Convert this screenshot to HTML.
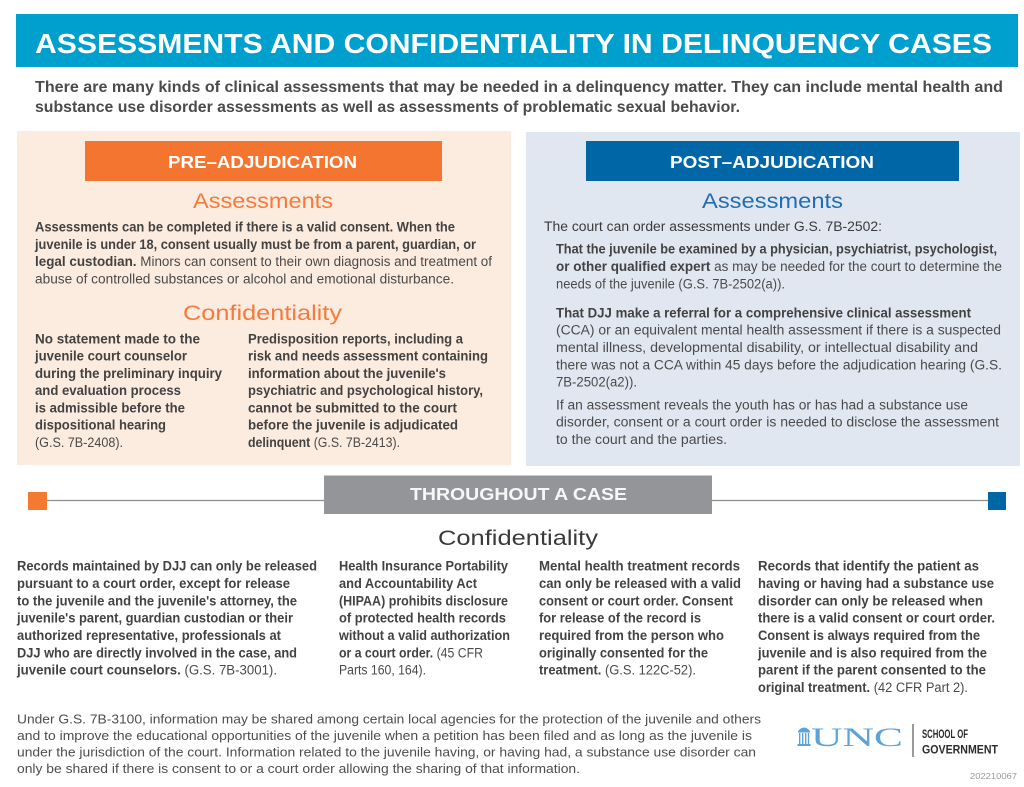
<!DOCTYPE html>
<html>
<head>
<meta charset="utf-8">
<style>
html,body{margin:0;padding:0;background:#fff;}
svg{display:block;}
text{font-family:"Liberation Sans",sans-serif;}
.t{fill:#3a3a3a;font-size:13.5px;}
.bd{font-weight:bold;fill:#424242;}
.rg{font-weight:normal;fill:#4a4a4a;}
</style>
</head>
<body>
<svg width="1024" height="787" viewBox="0 0 1024 787" xmlns="http://www.w3.org/2000/svg">
<rect x="0" y="0" width="1024" height="787" fill="#ffffff"/>

<!-- Title bar -->
<rect x="16" y="14" width="1002" height="53" fill="#00a0ce"/>
<text x="35" y="53" textLength="957" lengthAdjust="spacingAndGlyphs" font-size="27.5" font-weight="bold" fill="#ffffff">ASSESSMENTS AND CONFIDENTIALITY IN DELINQUENCY CASES</text>

<!-- Subtitle -->
<text x="35" y="92" textLength="968" lengthAdjust="spacingAndGlyphs" font-size="15.5" font-weight="bold" fill="#4b4b4d">There are many kinds of clinical assessments that may be needed in a delinquency matter. They can include mental health and</text>
<text x="35" y="112" textLength="705" lengthAdjust="spacingAndGlyphs" font-size="15.5" font-weight="bold" fill="#4b4b4d">substance use disorder assessments as well as assessments of problematic sexual behavior.</text>

<!-- Left panel -->
<rect x="17" y="131" width="494" height="334" fill="#fcebdf"/>
<rect x="85" y="141" width="357" height="40" fill="#f37530"/>
<text x="168" y="168" textLength="189" lengthAdjust="spacingAndGlyphs" font-size="17.5" font-weight="bold" fill="#ffffff">PRE–ADJUDICATION</text>
<text x="193" y="208" textLength="140" lengthAdjust="spacingAndGlyphs" font-size="21" fill="#f47b3b">Assessments</text>

<text class="t bd" x="35" y="231.5" textLength="420" lengthAdjust="spacingAndGlyphs">Assessments can be completed if there is a valid consent. When the</text>
<text class="t bd" x="35" y="248.8" textLength="441" lengthAdjust="spacingAndGlyphs">juvenile is under 18, consent usually must be from a parent, guardian, or</text>
<text class="t" x="35" y="266" textLength="457" lengthAdjust="spacingAndGlyphs"><tspan class="bd">legal custodian.</tspan><tspan class="rg"> Minors can consent to their own diagnosis and treatment of</tspan></text>
<text class="t rg" x="35" y="283.3" textLength="419" lengthAdjust="spacingAndGlyphs">abuse of controlled substances or alcohol and emotional disturbance.</text>

<text x="183" y="320" textLength="159" lengthAdjust="spacingAndGlyphs" font-size="21" fill="#f47b3b">Confidentiality</text>

<text class="t bd" x="35" y="343.3" textLength="165" lengthAdjust="spacingAndGlyphs">No statement made to the</text>
<text class="t bd" x="35" y="360.6" textLength="152" lengthAdjust="spacingAndGlyphs">juvenile court counselor</text>
<text class="t bd" x="35" y="377.8" textLength="187" lengthAdjust="spacingAndGlyphs">during the preliminary inquiry</text>
<text class="t bd" x="35" y="395.1" textLength="146" lengthAdjust="spacingAndGlyphs">and evaluation process</text>
<text class="t bd" x="35" y="412.3" textLength="150" lengthAdjust="spacingAndGlyphs">is admissible before the</text>
<text class="t bd" x="35" y="429.6" textLength="131" lengthAdjust="spacingAndGlyphs">dispositional hearing</text>
<text class="t rg" x="35" y="446.8" textLength="88" lengthAdjust="spacingAndGlyphs">(G.S. 7B-2408).</text>

<text class="t bd" x="248" y="343.3" textLength="215" lengthAdjust="spacingAndGlyphs">Predisposition reports, including a</text>
<text class="t bd" x="248" y="360.6" textLength="240" lengthAdjust="spacingAndGlyphs">risk and needs assessment containing</text>
<text class="t bd" x="248" y="377.8" textLength="198" lengthAdjust="spacingAndGlyphs">information about the juvenile's</text>
<text class="t bd" x="248" y="395.1" textLength="235" lengthAdjust="spacingAndGlyphs">psychiatric and psychological history,</text>
<text class="t bd" x="248" y="412.3" textLength="209" lengthAdjust="spacingAndGlyphs">cannot be submitted to the court</text>
<text class="t bd" x="248" y="429.6" textLength="210" lengthAdjust="spacingAndGlyphs">before the juvenile is adjudicated</text>
<text class="t" x="248" y="446.8" textLength="152" lengthAdjust="spacingAndGlyphs"><tspan class="bd">delinquent</tspan><tspan class="rg"> (G.S. 7B-2413).</tspan></text>

<!-- Right panel -->
<rect x="526" y="132" width="494" height="334" fill="#e1e7f1"/>
<rect x="586" y="141" width="373" height="40" fill="#0066a6"/>
<text x="670" y="168" textLength="204" lengthAdjust="spacingAndGlyphs" font-size="17.5" font-weight="bold" fill="#ffffff">POST–ADJUDICATION</text>
<text x="702" y="208" textLength="141" lengthAdjust="spacingAndGlyphs" font-size="21" fill="#1f6fb2">Assessments</text>

<text class="t" x="544" y="231" textLength="338" lengthAdjust="spacingAndGlyphs">The court can order assessments under G.S. 7B-2502:</text>
<text class="t bd" x="556" y="253.3" textLength="441" lengthAdjust="spacingAndGlyphs">That the juvenile be examined by a physician, psychiatrist, psychologist,</text>
<text class="t" x="556" y="270.8" textLength="446" lengthAdjust="spacingAndGlyphs"><tspan class="bd">or other qualified expert</tspan><tspan class="rg"> as may be needed for the court to determine the</tspan></text>
<text class="t rg" x="556" y="288.3" textLength="229" lengthAdjust="spacingAndGlyphs">needs of the juvenile (G.S. 7B-2502(a)).</text>

<text class="t bd" x="556" y="317.3" textLength="415" lengthAdjust="spacingAndGlyphs">That DJJ make a referral for a comprehensive clinical assessment</text>
<text class="t rg" x="556" y="334.7" textLength="445" lengthAdjust="spacingAndGlyphs">(CCA) or an equivalent mental health assessment if there is a suspected</text>
<text class="t rg" x="556" y="352" textLength="422" lengthAdjust="spacingAndGlyphs">mental illness, developmental disability, or intellectual disability and</text>
<text class="t rg" x="556" y="369.3" textLength="446" lengthAdjust="spacingAndGlyphs">there was not a CCA within 45 days before the adjudication hearing (G.S.</text>
<text class="t rg" x="556" y="386.6" textLength="81" lengthAdjust="spacingAndGlyphs">7B-2502(a2)).</text>

<text class="t rg" x="556" y="409.3" textLength="412" lengthAdjust="spacingAndGlyphs">If an assessment reveals the youth has or has had a substance use</text>
<text class="t rg" x="556" y="426.7" textLength="443" lengthAdjust="spacingAndGlyphs">disorder, consent or a court order is needed to disclose the assessment</text>
<text class="t rg" x="556" y="444" textLength="171" lengthAdjust="spacingAndGlyphs">to the court and the parties.</text>

<!-- Throughout a case -->
<line x1="46" y1="500.5" x2="324" y2="500.5" stroke="#8f8f8f" stroke-width="1.3"/>
<line x1="712" y1="500.5" x2="988" y2="500.5" stroke="#8f8f8f" stroke-width="1.3"/>
<rect x="28" y="492" width="19" height="18" fill="#f37a30"/>
<rect x="988" y="492" width="18" height="18" fill="#0066a6"/>
<rect x="324" y="475" width="388" height="39" fill="#939598"/>
<line x1="324" y1="475.5" x2="712" y2="475.5" stroke="#c9cacc" stroke-width="1"/>
<text x="410" y="500" textLength="217" lengthAdjust="spacingAndGlyphs" font-size="17.5" font-weight="bold" fill="#f7f7f7">THROUGHOUT A CASE</text>
<text x="438" y="545" textLength="160" lengthAdjust="spacingAndGlyphs" font-size="21" fill="#3a3a3a">Confidentiality</text>

<!-- Bottom col 1 -->
<text class="t bd" x="17" y="570.7" textLength="300" lengthAdjust="spacingAndGlyphs">Records maintained by DJJ can only be released</text>
<text class="t bd" x="17" y="588" textLength="273" lengthAdjust="spacingAndGlyphs">pursuant to a court order, except for release</text>
<text class="t bd" x="17" y="605.3" textLength="280" lengthAdjust="spacingAndGlyphs">to the juvenile and the juvenile's attorney, the</text>
<text class="t bd" x="17" y="622.7" textLength="276" lengthAdjust="spacingAndGlyphs">juvenile's parent, guardian custodian or their</text>
<text class="t bd" x="17" y="640" textLength="264" lengthAdjust="spacingAndGlyphs">authorized representative, professionals at</text>
<text class="t bd" x="17" y="657.3" textLength="280" lengthAdjust="spacingAndGlyphs">DJJ who are directly involved in the case, and</text>
<text class="t" x="17" y="674.7" textLength="260" lengthAdjust="spacingAndGlyphs"><tspan class="bd">juvenile court counselors.</tspan><tspan class="rg"> (G.S. 7B-3001).</tspan></text>

<!-- Bottom col 2 -->
<text class="t bd" x="339" y="570.7" textLength="169" lengthAdjust="spacingAndGlyphs">Health Insurance Portability</text>
<text class="t bd" x="339" y="588" textLength="138" lengthAdjust="spacingAndGlyphs">and Accountability Act</text>
<text class="t bd" x="339" y="605.3" textLength="169" lengthAdjust="spacingAndGlyphs">(HIPAA) prohibits disclosure</text>
<text class="t bd" x="339" y="622.7" textLength="167" lengthAdjust="spacingAndGlyphs">of protected health records</text>
<text class="t bd" x="339" y="640" textLength="171" lengthAdjust="spacingAndGlyphs">without a valid authorization</text>
<text class="t" x="339" y="657.3" textLength="144" lengthAdjust="spacingAndGlyphs"><tspan class="bd">or a court order.</tspan><tspan class="rg"> (45 CFR</tspan></text>
<text class="t rg" x="339" y="674.7" textLength="87" lengthAdjust="spacingAndGlyphs">Parts 160, 164).</text>

<!-- Bottom col 3 -->
<text class="t bd" x="539" y="570.7" textLength="201" lengthAdjust="spacingAndGlyphs">Mental health treatment records</text>
<text class="t bd" x="539" y="588" textLength="202" lengthAdjust="spacingAndGlyphs">can only be released with a valid</text>
<text class="t bd" x="539" y="605.3" textLength="194" lengthAdjust="spacingAndGlyphs">consent or court order. Consent</text>
<text class="t bd" x="539" y="622.7" textLength="162" lengthAdjust="spacingAndGlyphs">for release of the record is</text>
<text class="t bd" x="539" y="640" textLength="185" lengthAdjust="spacingAndGlyphs">required from the person who</text>
<text class="t bd" x="539" y="657.3" textLength="169" lengthAdjust="spacingAndGlyphs">originally consented for the</text>
<text class="t" x="539" y="674.7" textLength="157" lengthAdjust="spacingAndGlyphs"><tspan class="bd">treatment.</tspan><tspan class="rg"> (G.S. 122C-52).</tspan></text>

<!-- Bottom col 4 -->
<text class="t bd" x="758" y="570.7" textLength="221" lengthAdjust="spacingAndGlyphs">Records that identify the patient as</text>
<text class="t bd" x="758" y="588" textLength="236" lengthAdjust="spacingAndGlyphs">having or having had a substance use</text>
<text class="t bd" x="758" y="605.3" textLength="225" lengthAdjust="spacingAndGlyphs">disorder can only be released when</text>
<text class="t bd" x="758" y="622.7" textLength="237" lengthAdjust="spacingAndGlyphs">there is a valid consent or court order.</text>
<text class="t bd" x="758" y="640" textLength="222" lengthAdjust="spacingAndGlyphs">Consent is always required from the</text>
<text class="t bd" x="758" y="657.3" textLength="229" lengthAdjust="spacingAndGlyphs">juvenile and is also required from the</text>
<text class="t bd" x="758" y="674.7" textLength="228" lengthAdjust="spacingAndGlyphs">parent if the parent consented to the</text>
<text class="t" x="758" y="692" textLength="210" lengthAdjust="spacingAndGlyphs"><tspan class="bd">original treatment.</tspan><tspan class="rg"> (42 CFR Part 2).</tspan></text>

<!-- Footer -->
<text x="17" y="723.5" textLength="744" lengthAdjust="spacingAndGlyphs" font-size="12.5" fill="#4d4d4d">Under G.S. 7B-3100, information may be shared among certain local agencies for the protection of the juvenile and others</text>
<text x="17" y="740" textLength="735" lengthAdjust="spacingAndGlyphs" font-size="12.5" fill="#4d4d4d">and to improve the educational opportunities of the juvenile when a petition has been filed and as long as the juvenile is</text>
<text x="17" y="756.5" textLength="739" lengthAdjust="spacingAndGlyphs" font-size="12.5" fill="#4d4d4d">under the jurisdiction of the court. Information related to the juvenile having, or having had, a substance use disorder can</text>
<text x="17" y="773" textLength="563" lengthAdjust="spacingAndGlyphs" font-size="12.5" fill="#4d4d4d">only be shared if there is consent to or a court order allowing the sharing of that information.</text>

<!-- UNC logo -->
<g fill="#5ba3da" stroke="none">
  <path d="M798 731 Q804 724 810 731 Z"/>
  <rect x="798" y="731" width="12" height="1.5"/>
  <rect x="799" y="733" width="1.4" height="11"/>
  <rect x="802" y="733" width="1.4" height="11"/>
  <rect x="805" y="733" width="1.4" height="11"/>
  <rect x="807.8" y="733" width="1.4" height="11"/>
  <rect x="797.5" y="744" width="13" height="2"/>
</g>
<text x="811" y="746" textLength="92" lengthAdjust="spacingAndGlyphs" style="font-family:'Liberation Serif',serif" font-size="26" fill="#5ba3da">UNC</text>
<line x1="913" y1="724" x2="913" y2="757" stroke="#333" stroke-width="1"/>
<text x="922" y="738" textLength="46" lengthAdjust="spacingAndGlyphs" font-size="11.5" font-weight="bold" fill="#2b2b2b">SCHOOL OF</text>
<text x="922" y="753.5" textLength="76" lengthAdjust="spacingAndGlyphs" font-size="11.5" font-weight="bold" fill="#2b2b2b">GOVERNMENT</text>
<text x="970" y="779" textLength="47" lengthAdjust="spacingAndGlyphs" font-size="8.5" fill="#9a9a9a">202210067</text>
</svg>
</body>
</html>
